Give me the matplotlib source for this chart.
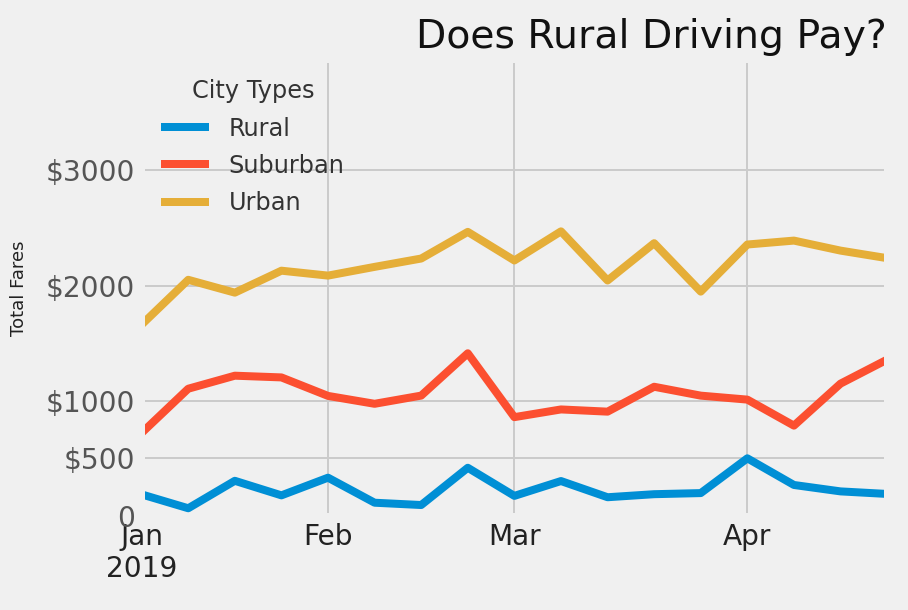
import numpy as np
import pandas as pd
import matplotlib
matplotlib.use("Agg")
import matplotlib.pyplot as plt

# ----------------------------
# DATA (weekly total fares, Jan-Apr 2019)
# ----------------------------
weeks = pd.to_datetime([
    "2019-01-06", "2019-01-13", "2019-01-20", "2019-01-27",
    "2019-02-03", "2019-02-10", "2019-02-17", "2019-02-24",
    "2019-03-03", "2019-03-10", "2019-03-17", "2019-03-24", "2019-03-31",
    "2019-04-07", "2019-04-14", "2019-04-21", "2019-04-28",
])

rural = [187.9, 67.7, 306.0, 179.7, 333.1, 115.8, 95.8, 419.1,
         175.1, 303.9, 163.4, 189.8, 199.4, 501.2, 269.8, 214.1, 191.9]
suburban = [721.6, 1105.1, 1218.2, 1203.3, 1042.8, 974.3, 1045.5, 1412.7,
            858.5, 925.3, 906.2, 1122.2, 1045.1, 1010.7, 784.8, 1149.3, 1357.8]
urban = [1661.7, 2050.4, 1939.0, 2129.5, 2086.9, 2162.6, 2235.1, 2466.3,
         2218.2, 2470.9, 2044.4, 2368.4, 1948.0, 2356.7, 2390.7, 2303.8, 2238.3]

city_types = ["Rural", "Suburban", "Urban"]
series = [rural, suburban, urban]

month_tick_idx = [0, 4, 8, 13]
month_labels = ["Jan\n2019", "Feb", "Mar", "Apr"]

y_ticks = [0, 500, 1000, 2000, 3000]
y_labels = ["0", "$500", "$1000", "$2000", "$3000"]

# ----------------------------
# PLOT
# ----------------------------
plt.style.use("fivethirtyeight")

fig = plt.figure(figsize=(908/144, 610/144), dpi=144)
ax = fig.add_axes([0.156, 0.154, 0.821, 0.748])

for name, vals in zip(city_types, series):
    ax.plot(weeks, vals, label=name)

ax.axhline(0, color="#a6a6a6", linewidth=2, zorder=1)

ax.set_xlim(weeks[0], weeks[-1])
ax.set_ylim(0, 3960)
ax.set_xticks([weeks[i] for i in month_tick_idx])
ax.set_xticklabels(month_labels)
ax.set_yticks(y_ticks)
ax.set_yticklabels(y_labels)
ax.tick_params(axis="y", labelcolor="#555555")
ax.tick_params(axis="x", labelcolor="#222222")

ax.set_title("Does Rural Driving Pay?", loc="right", fontsize=19.7, color="#111111")
ax.set_ylabel("Total Fares", fontsize=9, color="#222222")
ax.yaxis.set_label_coords(-0.153, 0.5)

leg = ax.legend(title="City Types", loc="upper left", fontsize=12, title_fontsize=12,
                frameon=False, labelspacing=0.55, borderaxespad=0.42)
for t in leg.get_texts():
    t.set_color("#333333")
leg.get_title().set_color("#333333")

fig.savefig("out.png", dpi=144)
